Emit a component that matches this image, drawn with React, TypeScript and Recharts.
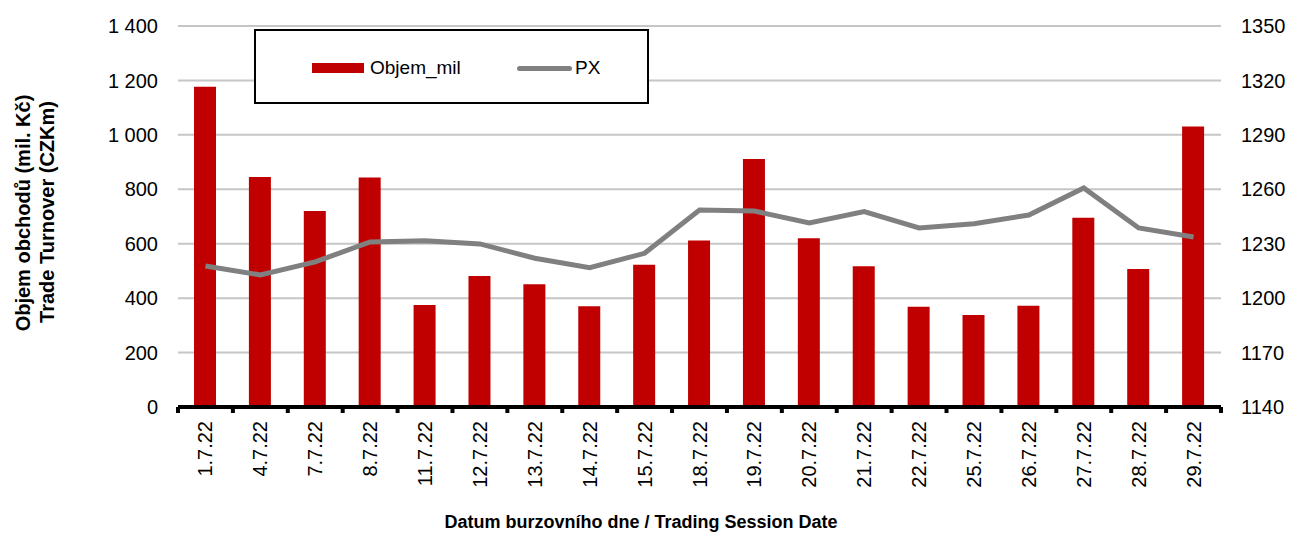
import React from 'react';
import { ComposedChart, Bar, Line, XAxis, YAxis, CartesianGrid, Legend } from 'recharts';

document.body.style.margin = '0';

const FONT = '"Liberation Sans", Arial, sans-serif';

const dates = [
  '1.7.22', '4.7.22', '7.7.22', '8.7.22', '11.7.22', '12.7.22', '13.7.22', '14.7.22', '15.7.22', '18.7.22',
  '19.7.22', '20.7.22', '21.7.22', '22.7.22', '25.7.22', '26.7.22', '27.7.22', '28.7.22', '29.7.22',
];
const objemMil = [1177, 845, 720, 843, 375, 481, 451, 370, 523, 612, 911, 620, 517, 368, 338, 372, 695, 507, 1031];
const pxIndex = [
  1217.7, 1212.8, 1220.0, 1231.0, 1231.7, 1229.9, 1222.0, 1216.8, 1224.7, 1248.6,
  1248.0, 1241.4, 1247.7, 1238.7, 1241.0, 1245.8, 1260.7, 1238.7, 1233.7,
];
const leftTicks = [0, 200, 400, 600, 800, 1000, 1200, 1400];
const rightTicks = [1140, 1170, 1200, 1230, 1260, 1290, 1320, 1350];

const data = dates.map((date, i) => ({ date, Objem_mil: objemMil[i], PX: pxIndex[i] }));

const PLOT_LEFT = 178;
const PLOT_RIGHT = 1221;
const AXIS_Y = 407;
const BAND = (PLOT_RIGHT - PLOT_LEFT) / dates.length;

const fmtThousands = (v: number) => String(v).replace(/\B(?=(\d{3})+(?!\d))/g, ' ');

function DateTick(props: any) {
  const { x, payload, index } = props;
  const half = BAND / 2;
  return (
    <g>
      <line x1={x - half} x2={x - half} y1={AXIS_Y} y2={AXIS_Y + 6} stroke="#000" strokeWidth={4} />
      {index === dates.length - 1 && (
        <line x1={x + half} x2={x + half} y1={AXIS_Y} y2={AXIS_Y + 6} stroke="#000" strokeWidth={4} />
      )}
      <text
        x={x}
        y={421}
        transform={`rotate(-90 ${x} 421)`}
        textAnchor="end"
        dominantBaseline="central"
        fontFamily={FONT}
        fontSize={20}
        fill="#000"
      >
        {payload.value}
      </text>
    </g>
  );
}

function XTitle() {
  return (
    <text x={641} y={528} textAnchor="middle" fontFamily={FONT} fontSize={18} fontWeight="bold" fill="#000">
      Datum burzovního dne / Trading Session Date
    </text>
  );
}

function YTitle() {
  return (
    <g fontFamily={FONT} fontSize={20} fontWeight="bold" fill="#000">
      <text x={23} y={213} transform="rotate(-90 23 213)" textAnchor="middle" dominantBaseline="central">
        Objem obchodů (mil. Kč)
      </text>
      <text x={47} y={212} transform="rotate(-90 47 212)" textAnchor="middle" dominantBaseline="central">
        Trade Turnover (CZKm)
      </text>
    </g>
  );
}

const swatchLeft = [56, 261];

function LegendBox(props: any) {
  const items = props.payload || [];
  return (
    <div
      style={{
        boxSizing: 'border-box',
        width: 395,
        height: 75,
        border: '2px solid #000',
        background: '#fff',
        position: 'relative',
        fontFamily: FONT,
        fontSize: 19,
        color: '#000',
      }}
    >
      {items.map((item: any, i: number) => (
        <div key={item.value} style={{ position: 'absolute', left: swatchLeft[i], top: 24, height: 26, display: 'flex', alignItems: 'center' }}>
          {item.type === 'line' ? (
            <span style={{ display: 'inline-block', width: 55, height: 5, borderRadius: 3, background: item.color }} />
          ) : (
            <span style={{ display: 'inline-block', width: 52, height: 10, background: item.color }} />
          )}
          <span style={{ marginLeft: item.type === 'line' ? 3 : 6 }}>{item.value}</span>
        </div>
      ))}
    </div>
  );
}

export default function App() {
  return (
    <ComposedChart
      width={1289}
      height={533}
      data={data}
      margin={{ top: 26, right: 0, bottom: 0, left: 0 }}
      style={{ fontFamily: FONT }}
    >
      <CartesianGrid yAxisId="left" vertical={false} stroke="#c6c6c6" strokeWidth={2} />
      <XAxis
        dataKey="date"
        interval={0}
        height={126}
        tickLine={false}
        axisLine={{ stroke: '#000', strokeWidth: 4 }}
        tick={<DateTick />}
        label={<XTitle />}
      />
      <YAxis
        yAxisId="left"
        width={PLOT_LEFT}
        domain={[0, 1400]}
        ticks={leftTicks}
        tickFormatter={fmtThousands}
        axisLine={false}
        tickLine={false}
        tickMargin={14}
        tick={{ fill: '#000', fontSize: 20, fontFamily: FONT }}
        label={<YTitle />}
      />
      <YAxis
        yAxisId="right"
        orientation="right"
        width={1289 - PLOT_RIGHT}
        domain={[1140, 1350]}
        ticks={rightTicks}
        axisLine={false}
        tickLine={false}
        tickMargin={14}
        tick={{ fill: '#000', fontSize: 20, fontFamily: FONT }}
      />
      <Legend
        layout="horizontal"
        verticalAlign="middle"
        align="center"
        content={<LegendBox />}
        wrapperStyle={{ left: 254, top: 29, width: 395, height: 75 }}
      />
      <Bar yAxisId="left" dataKey="Objem_mil" fill="#c00000" barSize={22} isAnimationActive={false} />
      <Line
        yAxisId="right"
        dataKey="PX"
        type="linear"
        stroke="#808080"
        strokeWidth={5}
        dot={false}
        activeDot={false}
        legendType="line"
        isAnimationActive={false}
      />
    </ComposedChart>
  );
}
